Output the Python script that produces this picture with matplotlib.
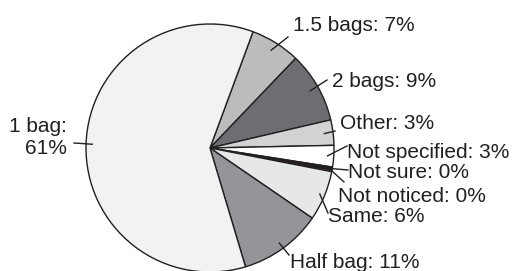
"""
Pie chart: bag usage answers
"""

import numpy as np
import matplotlib.pyplot as plt

# Data (clockwise from the top-right)
categories = ['1.5 bags', '2 bags', 'Other', 'Not specified', 'Not sure',
              'Not noticed', 'Same', 'Half bag', '1 bag']
shares = [6.5, 9.2, 3.3, 2.8, 0.4, 0.2, 6.5, 10.8, 60.2]
pct_labels = ['7%', '9%', '3%', '3%', '0%', '0%', '6%', '11%', '61%']
colors = ['#bbbcbe', '#6d6e71', '#d1d2d4', '#ffffff', '#231f20',
          '#ffffff', '#e6e7e8', '#939598', '#f1f2f4']

# Layout in pixels: text anchor and outer end of the leader line
W, H = 514, 271
CX, CY, R = 210, 148, 124
text_pos = [(293, 25), (332, 81), (340, 123), (347, 152), (348, 172),
            (338, 196), (328, 217), (290, 262), (67, 137)]
leader_end = [(288, 37), (327, 80), (335, 131), (347, 146), (348, 170),
              (344, 182), (328, 213), (289, 255), (74, 143)]
leader_r = [0.93, 0.93, 0.93, 0.95, 1.0, 1.0, 0.96, 0.95, 0.95]

INK = '#231f20'


def px(x, y):
    # pixel coords -> data coords (pie radius = 1)
    return (x - CX) / R, (CY - y) / R


def main():
    plt.rcParams['font.family'] = ['Liberation Sans', 'DejaVu Sans']
    fig = plt.figure(figsize=(W / 100, H / 100), dpi=100)
    ax = fig.add_axes([0, 0, 1, 1])

    start = 90 - 20.3
    wedges, _ = ax.pie(shares, colors=colors, startangle=start,
                       counterclock=False, radius=1,
                       wedgeprops=dict(edgecolor=INK, linewidth=1))

    # pie() resets the limits, so set them afterwards
    ax.set_xlim(-CX / R, (W - CX) / R)
    ax.set_ylim(-(H - CY) / R, CY / R)
    ax.set_aspect('equal')
    ax.axis('off')

    for i, w in enumerate(wedges):
        mid = np.radians((w.theta1 + w.theta2) / 2)
        x0, y0 = leader_r[i] * np.cos(mid), leader_r[i] * np.sin(mid)
        x1, y1 = px(*leader_end[i])
        ax.plot([x0, x1], [y0, y1], color=INK, lw=1, clip_on=False)

        tx, ty = px(*text_pos[i])
        if categories[i] == '1 bag':
            ax.text(tx, ty, categories[i] + ':\n' + pct_labels[i],
                    ha='right', va='center', multialignment='right',
                    fontsize=15, color=INK)
        else:
            ax.text(tx, ty, categories[i] + ': ' + pct_labels[i],
                    ha='left', va='center', fontsize=15, color=INK)

    fig.savefig('out.png', dpi=100)


if __name__ == "__main__":
    main()
